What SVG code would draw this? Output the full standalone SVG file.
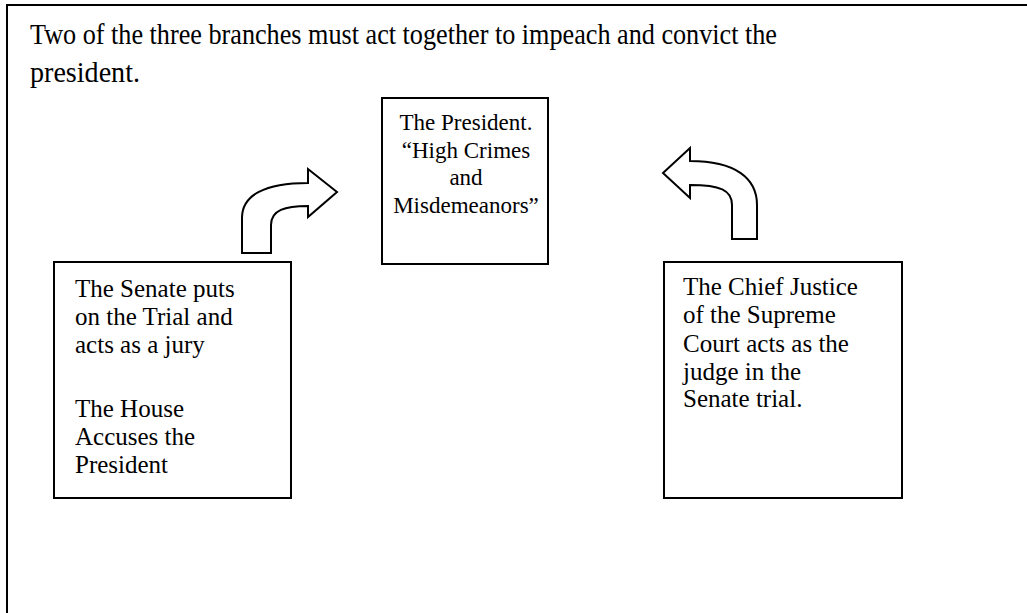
<svg xmlns="http://www.w3.org/2000/svg" width="1027" height="613" viewBox="0 0 1027 613">
<style>
.frame{fill:none;stroke:#000;stroke-width:2}
.box{fill:#fff;stroke:#000;stroke-width:2}
.arrow{fill:#fff;stroke:#000;stroke-width:2;stroke-linejoin:miter}
.title{font-family:"Liberation Serif","Times New Roman",serif;font-size:30px;fill:#000}
.t{font-family:"Liberation Serif","Times New Roman",serif;font-size:25px;fill:#000}
.p{font-family:"Liberation Serif","Times New Roman",serif;font-size:23px;fill:#000}
</style>
<rect width="1027" height="613" fill="#fff"/>
<path class="frame" d="M7 613 L7 5 L1027 5"/>
<text class="title" x="30" y="44" textLength="747" lengthAdjust="spacingAndGlyphs">Two of the three branches must act together to impeach and convict the</text>
<text class="title" x="30" y="82" textLength="110" lengthAdjust="spacingAndGlyphs">president.</text>
<g id="connectors">
<path class="arrow" d="M242 253 L242 218 C242 195 265 183 308 183 L308 169 L337 192 L308 217 L308 206 C285 206 271 210 271 225 L271 253 Z"/>
<path class="arrow" d="M757 239 L757 205 C757 178 735 161 690 161 L690 148 L663 173 L690 198 L690 185 C720 185 732 190 732 205 L732 239 Z"/>
</g>
<g id="president">
<rect class="box" x="382" y="98" width="166" height="166"/>
<text class="p" text-anchor="middle" x="466" y="130">The President.</text>
<text class="p" text-anchor="middle" x="466" y="158">“High Crimes</text>
<text class="p" text-anchor="middle" x="466" y="185">and</text>
<text class="p" text-anchor="middle" x="466" y="213">Misdemeanors”</text>
</g>
<g id="congress">
<rect class="box" x="54" y="262" width="237" height="236"/>
<text class="t" x="75" y="297">The Senate puts</text>
<text class="t" x="75" y="325">on the Trial and</text>
<text class="t" x="75" y="353">acts as a jury</text>
<text class="t" x="75" y="417">The House</text>
<text class="t" x="75" y="445">Accuses the</text>
<text class="t" x="75" y="473">President</text>
</g>
<g id="chief-justice">
<rect class="box" x="664" y="262" width="238" height="236"/>
<text class="t" x="683" y="295">The Chief Justice</text>
<text class="t" x="683" y="323">of the Supreme</text>
<text class="t" x="683" y="352">Court acts as the</text>
<text class="t" x="683" y="380">judge in the</text>
<text class="t" x="683" y="407">Senate trial.</text>
</g>
</svg>
